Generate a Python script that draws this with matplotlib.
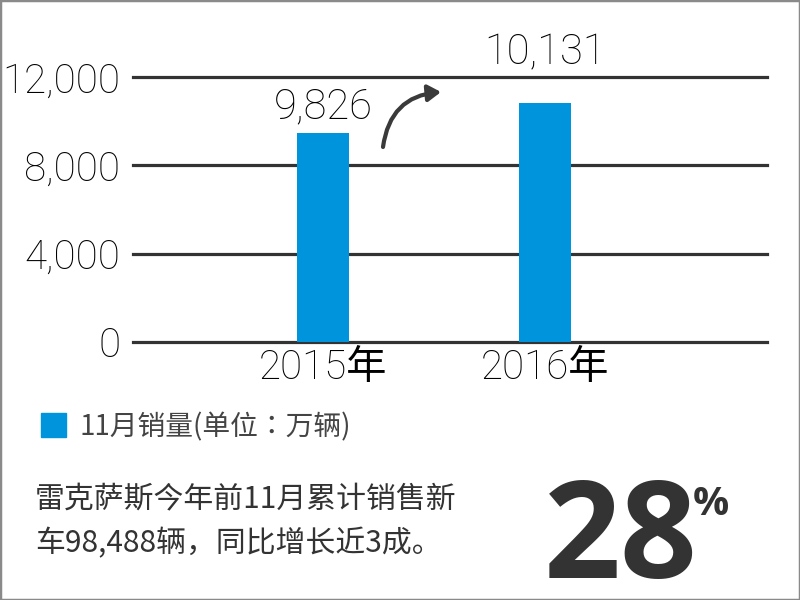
import matplotlib
matplotlib.use('Agg')
import matplotlib.pyplot as plt
from matplotlib.patches import Rectangle, FancyArrowPatch

# data
years = ['2015年', '2016年']
bar_heights = [9470, 10830]          # heights as drawn
bar_labels = ['9,826', '10,131']     # numbers printed above the bars
y_ticks = [0, 4000, 8000, 12000]
y_tick_labels = ['0', '4,000', '8,000', '12,000']
legend_text = '11月销量(单位：万辆)'
note_lines = ['雷克萨斯今年前11月累计销售新', '车98,488辆，同比增长近3成。']
big_number = '28'
big_unit = '%'

blue = '#0094DC'
dark = '#333333'
num_font = ['Roboto', 'Noto Sans CJK SC', 'DejaVu Sans']
cjk_font = ['Noto Sans CJK SC', 'DejaVu Sans']

W, H = 800, 600
fig = plt.figure(figsize=(8, 6), dpi=100)
fig.patch.set_facecolor('white')

def fx(px):
    return px / W

def fy(py):
    return 1 - py / H

ax = fig.add_axes([fx(133), fy(342), fx(767 - 133), (342 - 77) / H])
xs = list(range(len(years)))

for t in y_ticks:
    ax.axhline(t, color=dark, lw=2.3, zorder=1, clip_on=False)
ax.bar(xs, bar_heights, width=0.234, color=blue, zorder=2)

offsets = [15, 38]
for x, h, lab, off in zip(xs, bar_heights, bar_labels, offsets):
    ax.annotate(lab, (x, h), xytext=(0, off), textcoords='offset pixels',
                ha='center', va='baseline', fontsize=30, family=num_font,
                weight='light', color='black', annotation_clip=False)

ax.set_xlim(-0.856, 2.0)
ax.set_ylim(0, 12000)
ax.set_yticks(y_ticks)
ax.set_yticklabels(y_tick_labels, fontsize=29, family=num_font, weight='light')
ax.set_xticks(xs)
ax.set_xticklabels(years, fontsize=29, family=num_font, weight='light')
ax.tick_params(axis='y', length=0, pad=9)
ax.tick_params(axis='x', length=0, pad=5)
for s in ax.spines.values():
    s.set_visible(False)
ax.set_facecolor('none')

# curved arrow between the bars
arr = FancyArrowPatch((fx(383), fy(147)), (fx(441), fy(92)),
                      transform=fig.transFigure,
                      connectionstyle='arc3,rad=-0.4',
                      arrowstyle='-|>,head_length=0.55,head_width=0.35',
                      mutation_scale=14, color='#3a3a3a', lw=3,
                      shrinkA=0, shrinkB=0)
fig.patches.append(arr)

# legend
fig.patches.append(Rectangle((fx(41), fy(437)), 25 / W, 24 / H,
                             transform=fig.transFigure, color=blue))
fig.text(fx(79), fy(427), legend_text, fontsize=20,
         family=['Noto Sans CJK TC', 'DejaVu Sans'], weight='light',
         color='#444444', va='center', ha='left')

# note text
fig.text(fx(35), fy(500), note_lines[0], fontsize=21.5, family=cjk_font,
         color=dark, va='center', ha='left')
fig.text(fx(35), fy(544), note_lines[1], fontsize=21.5, family=cjk_font,
         color=dark, va='center', ha='left')

# big percentage
fig.text(fx(544), fy(578), big_number, fontsize=97, family='Open Sans',
         weight='bold', color=dark, va='baseline', ha='left')
fig.text(fx(693), fy(515), big_unit, fontsize=29, family='Open Sans',
         weight='bold', color=dark, va='baseline', ha='left')

# outer frame
fig.patches.append(Rectangle((0, 0), 1, 1, transform=fig.transFigure,
                             fill=False, edgecolor='#8a8a8a', lw=2.5))

fig.savefig('out.png', dpi=100)
